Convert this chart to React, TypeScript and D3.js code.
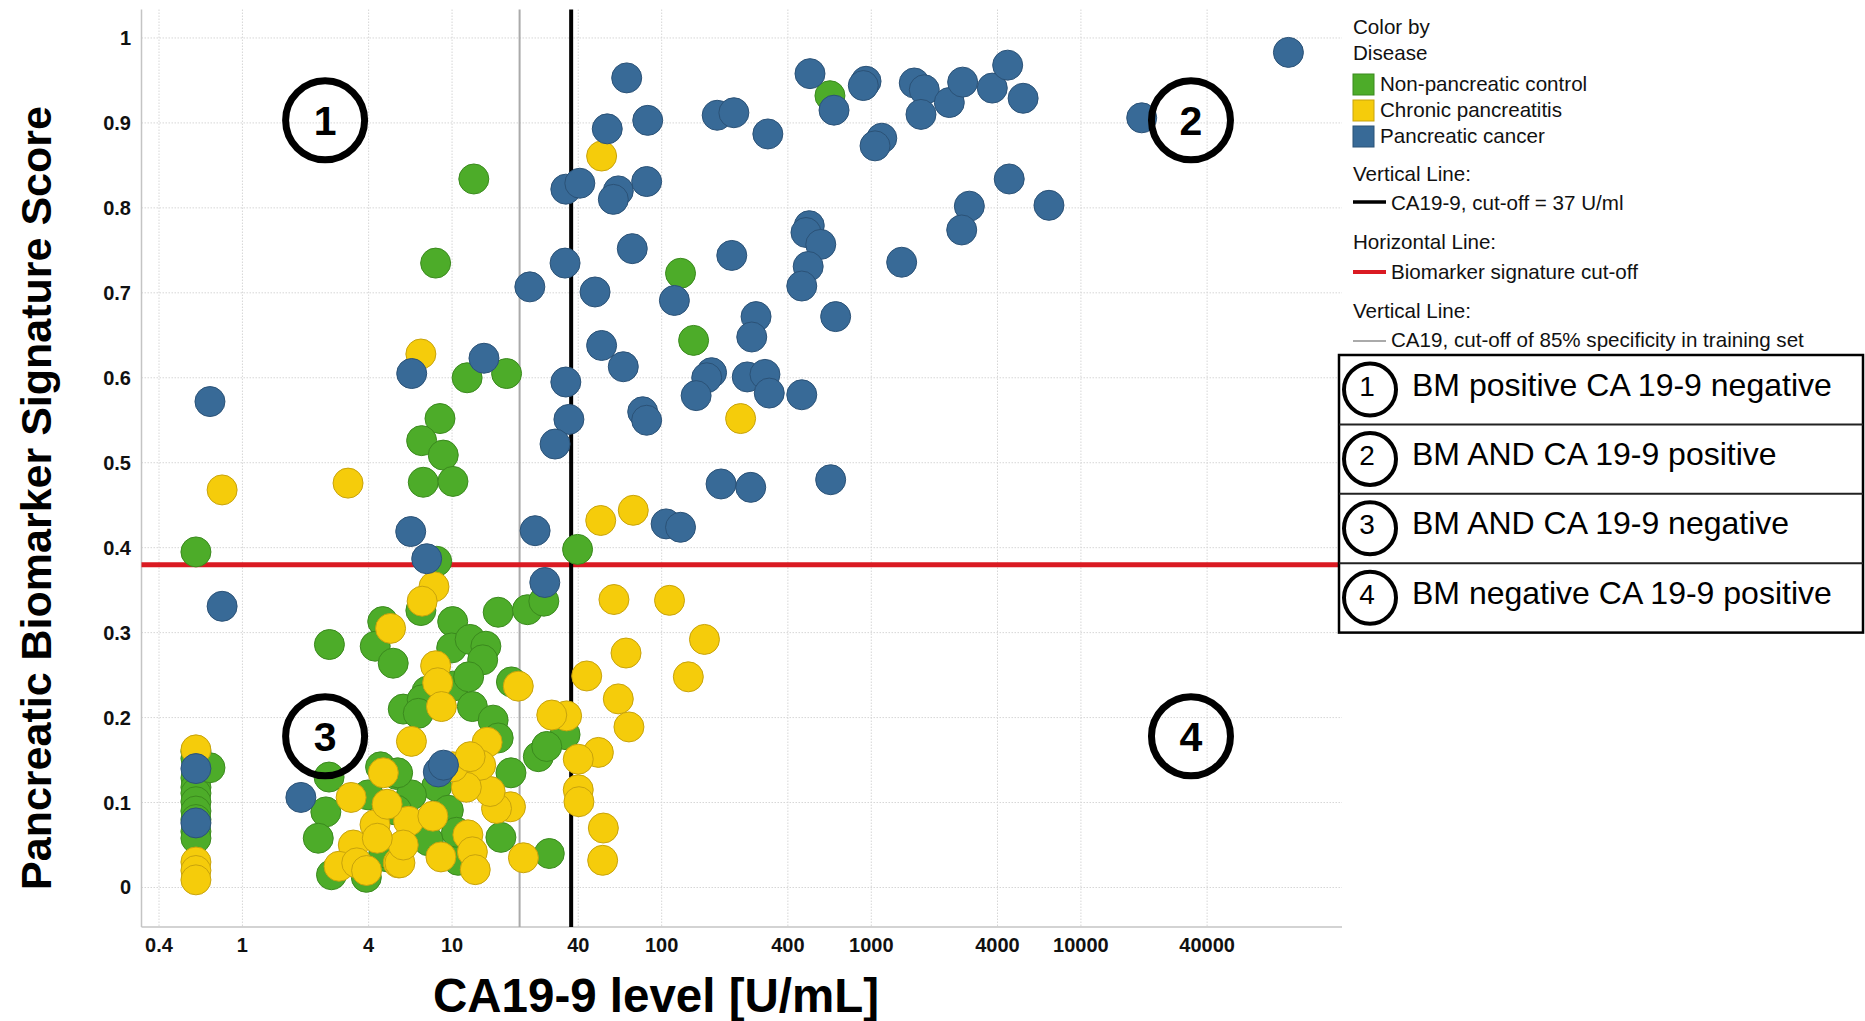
import * as d3 from 'd3';

const W = 1865;
const H = 1021;
const FONT = '"Liberation Sans", Arial, Helvetica, sans-serif';

// axis ticks
const xTicks = [0.4, 1, 4, 10, 40, 100, 400, 1000, 4000, 10000, 40000];
const yTicks = [0, 0.1, 0.2, 0.3, 0.4, 0.5, 0.6, 0.7, 0.8, 0.9, 1];

// [CA19-9 level U/mL, biomarker signature score]
const nonPancreatic: [number, number][] = [
  [0.6, 0.395], [0.6, 0.16], [0.6, 0.152], [0.6, 0.129], [0.6, 0.118], [0.6, 0.111], [0.6, 0.101],
  [0.6, 0.09], [0.6, 0.08], [0.6, 0.066], [0.6, 0.058], [0.7, 0.141],
  [12.7, 0.834], [8.35, 0.735], [11.8, 0.6], [18.2, 0.605], [8.76, 0.552], [7.16, 0.526], [9.08, 0.509],
  [7.29, 0.477], [10.1, 0.478], [8.45, 0.384], [39.7, 0.398], [123, 0.723], [142, 0.644], [635, 0.932],
  [2.6, 0.286], [4.67, 0.313], [4.3, 0.284], [5.24, 0.264], [5.85, 0.21], [2.59, 0.13], [2.5, 0.089],
  [2.3, 0.058], [3.98, 0.109], [4.56, 0.142], [5.44, 0.133], [5.28, 0.092], [2.66, 0.015], [3.9, 0.012],
  [4.91, 0.036], [7.1, 0.326], [10.07, 0.313], [16.6, 0.324], [22.9, 0.327], [27.4, 0.337], [9.96, 0.282],
  [12.2, 0.292], [14.5, 0.284], [14, 0.268], [10.1, 0.237], [12, 0.248], [7.6, 0.231], [7.2, 0.221],
  [6.9, 0.205], [12.5, 0.213], [15.7, 0.197], [16.6, 0.176], [19.2, 0.242], [34.6, 0.18], [25.8, 0.154],
  [28.3, 0.166], [29.1, 0.04], [17.1, 0.059], [19.1, 0.135], [8.45, 0.119], [6.4, 0.109], [5.5, 0.135],
  [5.44, 0.091], [9.6, 0.091], [10.7, 0.032], [4.73, 0.041], [7.7, 0.055], [10.5, 0.065],
];

const chronicPancreatitis: [number, number][] = [
  [0.6, 0.162], [0.6, 0.03], [0.6, 0.02], [0.6, 0.009],
  [0.8, 0.468], [3.19, 0.476], [7.1, 0.628], [51.7, 0.861], [238, 0.552], [51.2, 0.432], [73.2, 0.444],
  [59.2, 0.339], [109, 0.338], [160, 0.292], [67.6, 0.276], [43.9, 0.249], [134, 0.248], [62.1, 0.222],
  [69.8, 0.189], [35.2, 0.202], [29.9, 0.203], [49.9, 0.159], [40, 0.151], [40, 0.115], [40.3, 0.101],
  [52.7, 0.07], [52.3, 0.032],
  [5.09, 0.305], [6.4, 0.172], [3.3, 0.106], [4.7, 0.135], [4.29, 0.074], [3.38, 0.05], [2.89, 0.025],
  [3.51, 0.029], [3.91, 0.02], [5.54, 0.029], [8.2, 0.354], [7.2, 0.337], [8.35, 0.261], [8.54, 0.241],
  [8.9, 0.213], [14.7, 0.171], [20.7, 0.237], [21.9, 0.035], [19, 0.095], [16.3, 0.093], [15.2, 0.113],
  [13.7, 0.144], [11.7, 0.118], [10.1, 0.142], [6.2, 0.078], [8.1, 0.084], [11.9, 0.062], [12.5, 0.042],
  [12.9, 0.021], [8.85, 0.036], [5.64, 0.029], [5.85, 0.05], [4.4, 0.058], [4.9, 0.098], [12.2, 0.154],
];

const pancreaticCancer: [number, number][] = [
  [0.6, 0.14], [0.6, 0.076], [0.8, 0.331], [0.7, 0.572], [1.9, 0.106], [8.6, 0.136], [9.1, 0.144],
  [7.57, 0.387], [27.7, 0.359], [6.35, 0.419], [24.9, 0.42], [6.42, 0.605], [14.2, 0.623], [23.5, 0.707],
  [34.6, 0.735], [48.1, 0.701], [72.4, 0.752], [34.9, 0.822], [40.7, 0.829], [62.1, 0.82], [58.8, 0.81],
  [84.8, 0.831], [68.1, 0.953], [55, 0.893], [85.8, 0.903], [184, 0.909], [221, 0.912], [321, 0.887],
  [510, 0.958], [664, 0.915], [944, 0.949], [916, 0.944], [1122, 0.882], [1042, 0.873], [1603, 0.947],
  [1790, 0.939], [1726, 0.91], [2356, 0.924], [2728, 0.948], [3777, 0.941], [4473, 0.968], [5300, 0.929],
  [4550, 0.834], [2936, 0.802], [2700, 0.774], [7040, 0.803], [1396, 0.736], [19500, 0.906], [97700, 0.983],
  [506, 0.779], [488, 0.771], [574, 0.757], [500, 0.731], [466, 0.708], [676, 0.672], [216, 0.744],
  [115, 0.691], [282, 0.672], [269, 0.648], [51.7, 0.638], [65.6, 0.613], [34.9, 0.595], [36.1, 0.551],
  [31, 0.522], [81.2, 0.56], [84.8, 0.55], [173, 0.606], [164, 0.6], [146, 0.579], [256, 0.601],
  [311, 0.604], [326, 0.582], [466, 0.58], [192, 0.475], [266, 0.471], [640, 0.48], [105, 0.428], [123, 0.424],
];

// cut-offs
const ca199Cutoff = 37;
const specificityCutoff = 21;
const biomarkerCutoff = 0.38;

// quadrant markers, in data units
const quadrantMarks = [
  { n: '1', ca: 2.48, score: 0.903 },
  { n: '2', ca: 33500, score: 0.903 },
  { n: '3', ca: 2.48, score: 0.178 },
  { n: '4', ca: 33500, score: 0.178 },
];
const quadrantText = [
  'BM positive CA 19-9 negative',
  'BM AND CA 19-9 positive',
  'BM AND CA 19-9 negative',
  'BM negative CA 19-9 positive',
];

const series = [
  { name: 'Non-pancreatic control', fill: '#4dac29', stroke: '#3b8a1e', points: nonPancreatic },
  { name: 'Chronic pancreatitis', fill: '#f5cc0b', stroke: '#c8a30c', points: chronicPancreatitis },
  { name: 'Pancreatic cancer', fill: '#386a97', stroke: '#2b5277', points: pancreaticCancer },
];

export default function App() {
  const plot = { left: 141.5, right: 1342, top: 9.5, bottom: 927 };

  const x = d3.scaleLog().domain([0.33, 176000]).range([plot.left, plot.right]);
  const y = d3.scaleLinear().domain([-0.0465, 1.0335]).range([plot.bottom, plot.top]);

  const lx = 1353;
  const box = { left: 1339, right: 1863, top: 355, rowH: 69.4 };

  return (
    <svg
      width={W}
      height={H}
      style={{ position: 'absolute', left: 0, top: 0, background: '#fff' }}
      fontFamily={FONT}
    >
      <rect width={W} height={H} fill="#fff" />

      {/* grid */}
      <g stroke="#d6d6d6" strokeWidth={1} strokeDasharray="1.5,1.5">
        {xTicks.map(t => (
          <line key={'gx' + t} x1={x(t)} x2={x(t)} y1={plot.top} y2={plot.bottom} />
        ))}
        {yTicks.map(t => (
          <line key={'gy' + t} x1={plot.left} x2={plot.right} y1={y(t)} y2={y(t)} />
        ))}
      </g>

      {/* axes */}
      <g stroke="#c4c4c4" strokeWidth={1.5}>
        <line x1={plot.left} x2={plot.left} y1={plot.top} y2={plot.bottom} />
        <line x1={plot.left} x2={plot.right} y1={plot.bottom} y2={plot.bottom} />
      </g>

      {/* tick labels */}
      <g fontSize={20} fontWeight="bold" fill="#111">
        {yTicks.map(t => (
          <text key={'ty' + t} x={131} y={y(t) + 7} textAnchor="end">
            {d3.format('~g')(t)}
          </text>
        ))}
        {xTicks.map(t => (
          <text key={'tx' + t} x={x(t)} y={952} textAnchor="middle">
            {String(t)}
          </text>
        ))}
      </g>

      {/* axis titles */}
      <text
        transform={`translate(51,${498}) rotate(-90)`}
        textAnchor="middle"
        fontSize={43}
        fontWeight="bold"
        fill="#000"
      >
        Pancreatic Biomarker Signature Score
      </text>
      <text x={656} y={1012} textAnchor="middle" fontSize={47.5} fontWeight="bold" fill="#000">
        CA19-9 level [U/mL]
      </text>

      {/* reference lines */}
      <line
        x1={x(specificityCutoff)} x2={x(specificityCutoff)} y1={plot.top} y2={plot.bottom}
        stroke="#aaaaaa" strokeWidth={2}
      />
      <line
        x1={plot.left} x2={plot.right} y1={y(biomarkerCutoff)} y2={y(biomarkerCutoff)}
        stroke="#da1a22" strokeWidth={5}
      />
      <line
        x1={x(ca199Cutoff)} x2={x(ca199Cutoff)} y1={plot.top} y2={plot.bottom}
        stroke="#000" strokeWidth={4}
      />

      {/* points */}
      {series.map(s => (
        <g key={s.name} fill={s.fill} stroke={s.stroke} strokeWidth={1}>
          {s.points.map((p, i) => (
            <circle key={i} cx={x(p[0])} cy={y(p[1])} r={15} />
          ))}
        </g>
      ))}

      {/* quadrant markers */}
      {quadrantMarks.map(q => (
        <g key={'q' + q.n} transform={`translate(${x(q.ca)},${y(q.score)})`}>
          <circle r={39.5} fill="none" stroke="#000" strokeWidth={7} />
          <text y={14.5} textAnchor="middle" fontSize={41} fontWeight="bold" fill="#000">
            {q.n}
          </text>
        </g>
      ))}

      {/* legend */}
      <g fontSize={20.6} fill="#111">
        <text x={lx} y={34}>Color by</text>
        <text x={lx} y={60}>Disease</text>
        {series.map((s, i) => (
          <g key={'lg' + s.name}>
            <rect x={lx} y={74 + i * 26} width={21} height={21} fill={s.fill} stroke={s.stroke} strokeWidth={1} />
            <text x={lx + 27} y={91 + i * 26}>{s.name}</text>
          </g>
        ))}
        <text x={lx} y={181}>Vertical Line:</text>
        <line x1={lx} x2={lx + 33} y1={202} y2={202} stroke="#000" strokeWidth={3.5} />
        <text x={lx + 38} y={210}>CA19-9, cut-off = 37 U/ml</text>
        <text x={lx} y={249}>Horizontal Line:</text>
        <line x1={lx} x2={lx + 33} y1={272} y2={272} stroke="#da1a22" strokeWidth={4} />
        <text x={lx + 38} y={279}>Biomarker signature cut-off</text>
        <text x={lx} y={318}>Vertical Line:</text>
        <line x1={lx} x2={lx + 33} y1={341} y2={341} stroke="#aaaaaa" strokeWidth={2} />
        <text x={lx + 38} y={347}>CA19, cut-off of 85% specificity in training set</text>
      </g>

      {/* quadrant table */}
      <g>
        <rect
          x={box.left} y={box.top} width={box.right - box.left} height={box.rowH * 4}
          fill="#fff" stroke="#000" strokeWidth={2.5}
        />
        {[1, 2, 3].map(i => (
          <line
            key={'row' + i}
            x1={box.left} x2={box.right}
            y1={box.top + i * box.rowH} y2={box.top + i * box.rowH}
            stroke="#222" strokeWidth={2}
          />
        ))}
        {quadrantText.map((t, i) => {
          const cy = box.top + i * box.rowH + 34.5;
          return (
            <g key={'qt' + i}>
              <circle cx={1370} cy={cy} r={26} fill="none" stroke="#000" strokeWidth={4} />
              <text x={1367} y={cy + 6} textAnchor="middle" fontSize={28} fill="#000">
                {quadrantMarks[i].n}
              </text>
              <text x={1412} y={cy + 6} fontSize={32} fill="#000">{t}</text>
            </g>
          );
        })}
      </g>
    </svg>
  );
}
